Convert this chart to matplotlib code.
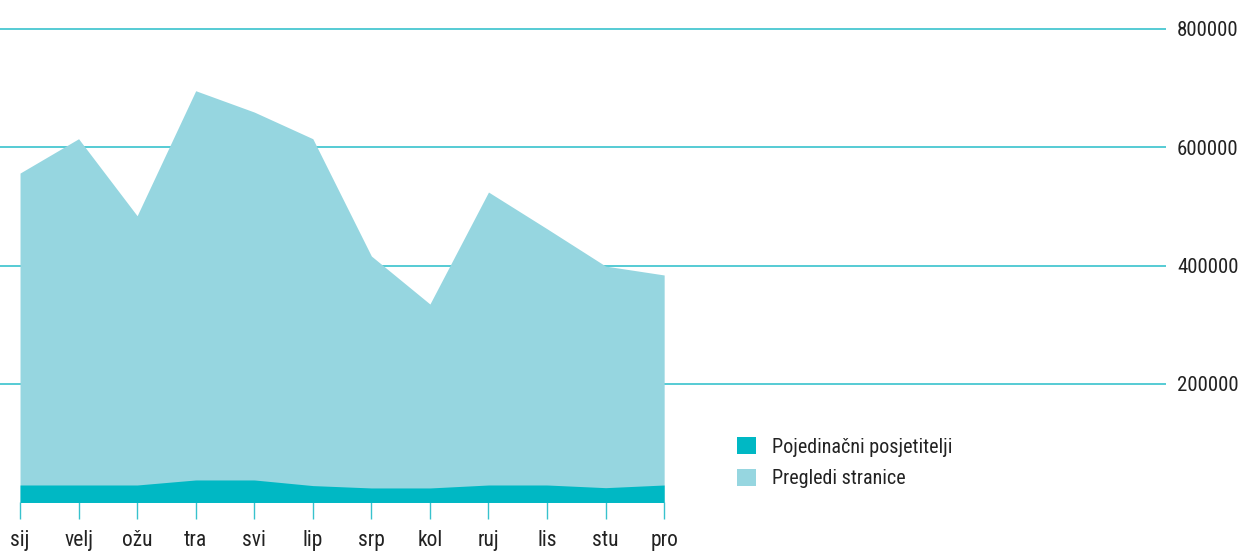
import matplotlib.pyplot as plt
from matplotlib.patches import Patch

# Podaci (očitano s grafa)
mjeseci = ["sij", "velj", "ožu", "tra", "svi", "lip", "srp", "kol", "ruj", "lis", "stu", "pro"]
pregledi = [556000, 614000, 484000, 695000, 659000, 614000, 416000, 335000, 524000, 462000, 399000, 384000]
posjetitelji = [29500, 29500, 29500, 38000, 38000, 28500, 24500, 24500, 29500, 29500, 25000, 29500]
y_ticks = [200000, 400000, 600000, 800000]

svijetla = "#96d6e0"
tamna = "#00b8c4"
mreza = "#38c2cd"
tekst = "#222222"

plt.rcParams['font.family'] = ['Roboto Condensed', 'Roboto', 'DejaVu Sans']

fig = plt.figure(figsize=(12.42, 5.54), dpi=100)
ax = fig.add_axes([0, 0.093, 1166 / 1242, 0.9699 - 0.093])

x = list(range(len(mjeseci)))
ax.fill_between(x, 0, pregledi, color=svijetla, linewidth=0, zorder=2)
ax.fill_between(x, 0, posjetitelji, color=tamna, linewidth=0, zorder=3)

ax.set_xlim(-0.342, 19.57)
ax.set_ylim(0, 820000)

ax.set_yticks(y_ticks)
ax.set_yticklabels([str(v) for v in y_ticks])
ax.yaxis.tick_right()
ax.tick_params(axis='y', length=0, pad=8, labelsize=15, labelcolor=tekst)
for v in y_ticks:
    ax.axhline(v, color=mreza, linewidth=1.2, zorder=1)

ax.set_xticks(x)
ax.set_xticklabels(mjeseci)
ax.tick_params(axis='x', length=12, width=1, color=mreza, pad=8, labelsize=15.5, labelcolor=tekst)

for s in ax.spines.values():
    s.set_visible(False)

rucke = [Patch(facecolor=tamna, label="Pojedinačni posjetitelji"),
         Patch(facecolor=svijetla, label="Pregledi stranice")]
fig.legend(handles=rucke, loc='upper left', bbox_to_anchor=(719 / 1242, 1 - 419 / 554),
           frameon=False, fontsize=14.5, handlelength=0.95, handleheight=0.95,
           handletextpad=0.8, labelspacing=0.6, labelcolor=tekst)

fig.savefig("out.png", dpi=100)
